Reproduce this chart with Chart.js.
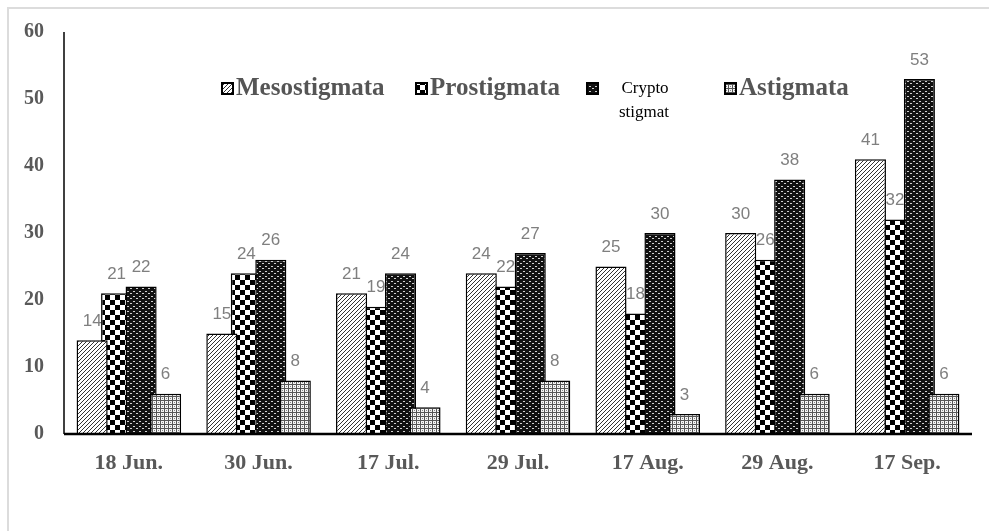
<!DOCTYPE html>
<html>
<head>
<meta charset="utf-8">
<script src="https://cdn.jsdelivr.net/npm/chart.js@4.4.1/dist/chart.umd.min.js"></script>
<style>
  html, body { margin: 0; padding: 0; background: #fff; }
  #wrap { width: 989px; height: 531px; position: relative; }
</style>
</head>
<body>
<div id="wrap"><canvas id="graphic" width="989" height="531"></canvas></div>
<script>
// data
var fechas = ['18 Jun.', '30 Jun.', '17 Jul.', '29 Jul.', '17 Aug.', '29 Aug.', '17 Sep.'];
var meso = [14, 15, 21, 24, 25, 30, 41];
var pro = [21, 24, 19, 22, 18, 26, 32];
var cripto = [22, 26, 24, 27, 30, 38, 53];
var asti = [6, 8, 4, 8, 3, 6, 6];
var nombres = ['Mesostigmata', 'Prostigmata', 'Crypto stigmat', 'Astigmata'];

var ctx = document.getElementById('graphic').getContext('2d');

// patterns for the bars
function tile(w, h, paint) {
  var c = document.createElement('canvas');
  c.width = w; c.height = h;
  var g = c.getContext('2d');
  paint(g);
  return ctx.createPattern(c, 'repeat');
}

var rayas = tile(4, 4, function (g) {
  g.fillStyle = '#fff'; g.fillRect(0, 0, 4, 4);
  g.strokeStyle = '#333'; g.lineWidth = 1;
  g.beginPath();
  g.moveTo(-1, 5); g.lineTo(5, -1);
  g.moveTo(-1, 1); g.lineTo(1, -1);
  g.moveTo(3, 5); g.lineTo(5, 3);
  g.stroke();
});

var damas = tile(10, 10, function (g) {
  g.fillStyle = '#fff'; g.fillRect(0, 0, 10, 10);
  g.fillStyle = '#000';
  g.fillRect(0, 0, 5, 5); g.fillRect(5, 5, 5, 5);
});

var puntos = tile(6, 5, function (g) {
  g.fillStyle = '#111'; g.fillRect(0, 0, 6, 5);
  g.fillStyle = '#d0d0d0';
  g.fillRect(1, 1, 2, 1);
  g.fillRect(4, 3, 2, 1);
});

var rejilla = tile(4, 4, function (g) {
  g.fillStyle = '#f4f4f4'; g.fillRect(0, 0, 4, 4);
  g.fillStyle = '#555';
  g.fillRect(0, 0, 4, 1); g.fillRect(0, 0, 1, 4);
  g.fillStyle = '#888';
  g.fillRect(2, 2, 1, 1);
});

var rellenos = [rayas, damas, puntos, rejilla];
var series = [meso, pro, cripto, asti];

var datos = {
  labels: fechas,
  datasets: series.map(function (s, i) {
    return {
      label: nombres[i],
      data: s,
      backgroundColor: rellenos[i],
      borderColor: '#000',
      borderWidth: 1.5,
      categoryPercentage: 0.755,
      barPercentage: 1.27
    };
  })
};

// draw order: Prostigmata, Crypto, Astigmata, then Mesostigmata on top
var ordenDibujo = [1, 2, 3, 0];
var dibujando = false;

var plugin = {
  id: 'extras',
  beforeDraw: function (chart) {
    var c = chart.ctx;
    c.save();
    c.fillStyle = '#fff';
    c.fillRect(0, 0, chart.width, chart.height);
    c.strokeStyle = '#dcdcdc';
    c.lineWidth = 2;
    c.beginPath();
    c.moveTo(8, chart.height); c.lineTo(8, 8); c.lineTo(chart.width, 8);
    c.stroke();
    c.restore();
  },
  beforeDatasetsDraw: function (chart) {
    // value labels sit behind the bars, as in the picture
    var c = chart.ctx;
    c.save();
    c.font = '17px "Liberation Sans", Arial, sans-serif';
    c.fillStyle = '#7f7f7f';
    c.textAlign = 'center';
    c.textBaseline = 'middle';
    chart.data.datasets.forEach(function (ds, i) {
      chart.getDatasetMeta(i).data.forEach(function (bar, j) {
        c.fillText(String(ds.data[j]), bar.x, bar.y - 19);
      });
    });
    c.restore();
  },
  beforeDatasetDraw: function () {
    if (!dibujando) return false;
  },
  afterDatasetsDraw: function (chart) {
    dibujando = true;
    ordenDibujo.forEach(function (i) {
      chart.getDatasetMeta(i).data.forEach(function (bar) { bar.draw(chart.ctx); });
    });
    dibujando = false;
  },
  afterDraw: function (chart) {
    var c = chart.ctx;
    c.save();
    // axis lines
    var a = chart.chartArea;
    c.strokeStyle = '#000';
    c.lineWidth = 1.5;
    c.beginPath();
    c.moveTo(a.left, a.top); c.lineTo(a.left, a.bottom);
    c.stroke();
    c.lineWidth = 2.5;
    c.beginPath();
    c.moveTo(a.left, a.bottom); c.lineTo(a.right, a.bottom);
    c.stroke();

    // legend inside the plot
    var items = [
      { x: 222, bold: true },
      { x: 416, bold: true },
      { x: 587, bold: false },
      { x: 725, bold: true }
    ];
    var yBox = 83, lado = 11;
    items.forEach(function (it, i) {
      c.fillStyle = rellenos[i];
      c.fillRect(it.x, yBox, lado, lado);
      c.strokeStyle = '#000';
      c.lineWidth = 2;
      c.strokeRect(it.x, yBox, lado, lado);
      if (it.bold) {
        c.font = 'bold 25px "Liberation Serif", "Times New Roman", serif';
        c.fillStyle = '#555';
        c.textAlign = 'left';
        c.textBaseline = 'middle';
        c.fillText(nombres[i], it.x + lado + 3, yBox + 6);
      } else {
        c.font = '17px "Liberation Serif", "Times New Roman", serif';
        c.fillStyle = '#000';
        c.textAlign = 'center';
        c.textBaseline = 'middle';
        var partes = nombres[i].split(' ');
        c.fillText(partes[0], 645, yBox + 6);
        c.fillText(partes[1], 644, yBox + 30);
      }
    });
    c.restore();
  }
};

var opciones = {
  responsive: false,
  animation: false,
  layout: { padding: { top: 30, right: 17, left: 0, bottom: 0 } },
  plugins: {
    legend: { display: false },
    tooltip: { enabled: false }
  },
  scales: {
    x: {
      grid: { display: false, drawTicks: false },
      border: { display: false },
      ticks: {
        padding: 16,
        color: '#595959',
        font: { family: '"Liberation Serif", "Times New Roman", serif', size: 22, weight: 'bold' }
      },
      afterFit: function (s) { s.height = 97; }
    },
    y: {
      min: 0,
      max: 60,
      grid: { display: false, drawTicks: false },
      border: { display: false },
      ticks: {
        stepSize: 10,
        padding: 20,
        color: '#595959',
        font: { family: '"Liberation Serif", "Times New Roman", serif', size: 20, weight: 'bold' }
      },
      afterFit: function (s) { s.width = 64; }
    }
  }
};

var miGrafico = new Chart(ctx, {
  type: 'bar',
  data: datos,
  options: opciones,
  plugins: [plugin]
});
</script>
</body>
</html>
